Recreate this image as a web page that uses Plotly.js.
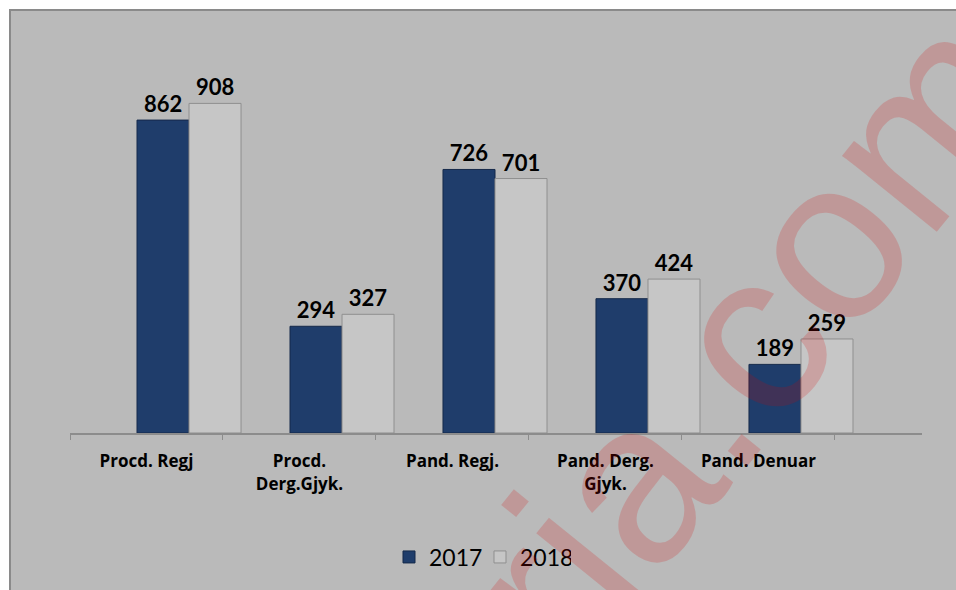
<!DOCTYPE html>
<html>
<head>
<meta charset="utf-8">
<script src="https://cdn.plot.ly/plotly-3.0.1.min.js"></script>
<style>
  html, body { margin: 0; padding: 0; background: #ffffff; }
  #chart { width: 956px; height: 590px; }
</style>
</head>
<body>
<div id="chart"></div>
<script>
// ---- data ----
const categories = ["Procd. Regj", "Procd.<br>Derg.Gjyk.", "Pand. Regj.", "Pand. Derg.<br>Gjyk.", "Pand. Denuar"];
const seriesNames = ["2017", "2018"];
const values2017 = [862, 294, 726, 370, 189];
const values2018 = [908, 327, 701, 424, 259];
const watermarkText = "ria.com";

// ---- styling ----
const labelFont = { family: "Lato, 'Open Sans', sans-serif", size: 22, color: "#000000", weight: 700 };

const trace2017 = {
  type: "bar",
  name: seriesNames[0],
  x: categories,
  y: values2017,
  xaxis: "x",
  yaxis: "y",
  marker: { color: "#1f3d6b", line: { color: "#15294a", width: 1 } },
  text: values2017.map(String),
  textposition: "outside",
  textfont: labelFont,
  cliponaxis: false,
  hoverinfo: "x+y"
};
const trace2018 = {
  type: "bar",
  name: seriesNames[1],
  x: categories,
  y: values2018,
  xaxis: "x",
  yaxis: "y",
  marker: { color: "#c6c6c6", line: { color: "#8f8f8f", width: 1 } },
  text: values2018.map(String),
  textposition: "outside",
  textfont: labelFont,
  cliponaxis: false,
  hoverinfo: "x+y"
};
// invisible trace to carry the category labels axis
const labelTrace = {
  type: "scatter",
  mode: "markers",
  x: categories,
  y: categories.map(() => 0),
  xaxis: "x2",
  yaxis: "y",
  marker: { opacity: 0 },
  showlegend: false,
  hoverinfo: "skip"
};

// pixel geometry helpers (plot area: x 70..922, y 70..433)
const L = 70, R = 34, T = 70, B = 157;
const plotW = 956 - L - R, plotH = 590 - T - B;
const px2x = p => (p - L) / plotW;
const px2y = p => (590 - B - p) / plotH;

const layout = {
  width: 956,
  height: 590,
  margin: { l: L, r: R, t: T, b: B, pad: 0 },
  paper_bgcolor: "#ffffff",
  plot_bgcolor: "rgba(0,0,0,0)",
  barmode: "group",
  bargap: 0.32,
  bargroupgap: 0,
  showlegend: true,
  xaxis: {
    type: "category",
    range: [-0.778, 4.791],
    visible: false,
    fixedrange: true
  },
  xaxis2: {
    type: "category",
    overlaying: "x",
    anchor: "y",
    range: [-0.5, 5.069],
    showline: true,
    linecolor: "#8c8c8c",
    linewidth: 2,
    ticks: "outside",
    tickson: "boundaries",
    ticklen: 5,
    tickcolor: "#8c8c8c",
    tickwidth: 1,
    showgrid: false,
    zeroline: false,
    ticklabelstandoff: 12,
    tickfont: { family: "'Open Sans', Lato, sans-serif", size: 17, color: "#000000", weight: 700 },
    fixedrange: true
  },
  yaxis: {
    range: [0, 1000],
    visible: false,
    showgrid: false,
    zeroline: false,
    fixedrange: true
  },
  legend: {
    orientation: "h",
    xref: "container",
    yref: "container",
    x: 389 / 956,
    xanchor: "left",
    y: (590 - 557) / 590,
    yanchor: "middle",
    entrywidth: 46,
    entrywidthmode: "pixels",
    bgcolor: "rgba(0,0,0,0)",
    font: { family: "Lato, 'Open Sans', sans-serif", size: 23, color: "#000000" },
    traceorder: "normal"
  },
  shapes: [
    {
      type: "rect", layer: "below",
      xref: "paper", yref: "paper",
      x0: px2x(10), x1: px2x(962), y0: px2y(596), y1: px2y(10),
      fillcolor: "#bababa",
      line: { color: "#8a8a8a", width: 2 }
    }
  ],
  annotations: [
    {
      xref: "paper", yref: "paper",
      x: px2x(748), y: px2y(338),
      xanchor: "center", yanchor: "middle",
      text: watermarkText,
      showarrow: false,
      textangle: -51,
      font: { family: "'Liberation Sans', Arial, sans-serif", size: 230, color: "rgba(215,0,0,0.18)" }
    }
  ]
};

Plotly.newPlot("chart", [trace2017, trace2018, labelTrace], layout, { staticPlot: true, displayModeBar: false });
</script>
</body>
</html>
